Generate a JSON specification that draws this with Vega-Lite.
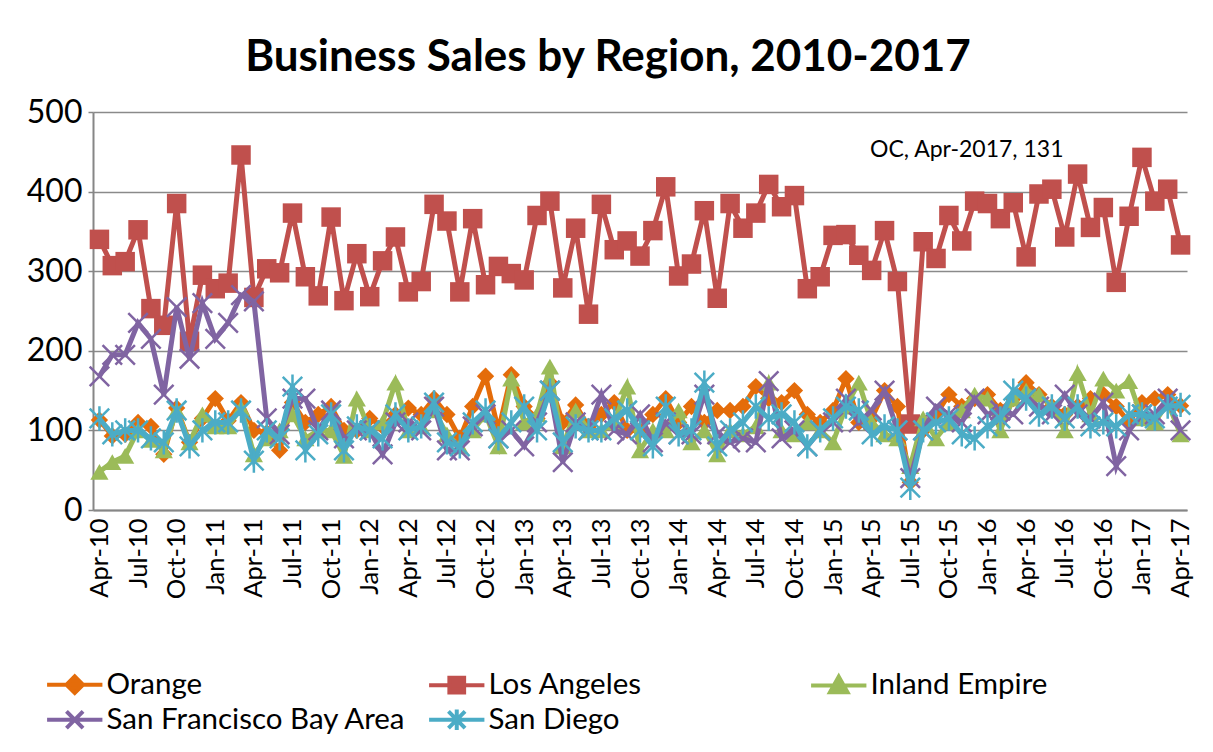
{
"$schema":"https://vega.github.io/schema/vega-lite/v6.json",
"width":1094,"height":398,
"autosize":{"type":"none"},
"padding":{"left":93,"top":112,"right":26,"bottom":242},
"background":"white",
"config":{"view":{"stroke":null},"font":"Lato"},
"title":{"text":"Business Sales by Region, 2010-2017","fontSize":44,"font":"Lato","fontWeight":"bold","color":"black","anchor":"middle","dx":-32,"offset":16},
"data":{"values":[
{"m":"Apr-10","Orange":113,"Los Angeles":340,"Inland Empire":48,"San Francisco Bay Area":168,"San Diego":115},
{"m":"May-10","Orange":93,"Los Angeles":307,"Inland Empire":60,"San Francisco Bay Area":195,"San Diego":95},
{"m":"Jun-10","Orange":95,"Los Angeles":312,"Inland Empire":68,"San Francisco Bay Area":195,"San Diego":100},
{"m":"Jul-10","Orange":110,"Los Angeles":352,"Inland Empire":100,"San Francisco Bay Area":235,"San Diego":100},
{"m":"Aug-10","Orange":105,"Los Angeles":253,"Inland Empire":88,"San Francisco Bay Area":215,"San Diego":90},
{"m":"Sep-10","Orange":70,"Los Angeles":232,"Inland Empire":75,"San Francisco Bay Area":145,"San Diego":85},
{"m":"Oct-10","Orange":128,"Los Angeles":385,"Inland Empire":125,"San Francisco Bay Area":255,"San Diego":125},
{"m":"Nov-10","Orange":85,"Los Angeles":212,"Inland Empire":85,"San Francisco Bay Area":190,"San Diego":80},
{"m":"Dec-10","Orange":115,"Los Angeles":295,"Inland Empire":120,"San Francisco Bay Area":260,"San Diego":100},
{"m":"Jan-11","Orange":140,"Los Angeles":278,"Inland Empire":105,"San Francisco Bay Area":215,"San Diego":110},
{"m":"Feb-11","Orange":112,"Los Angeles":285,"Inland Empire":105,"San Francisco Bay Area":235,"San Diego":110},
{"m":"Mar-11","Orange":135,"Los Angeles":446,"Inland Empire":128,"San Francisco Bay Area":270,"San Diego":125},
{"m":"Apr-11","Orange":100,"Los Angeles":267,"Inland Empire":70,"San Francisco Bay Area":262,"San Diego":62},
{"m":"May-11","Orange":97,"Los Angeles":303,"Inland Empire":90,"San Francisco Bay Area":115,"San Diego":100},
{"m":"Jun-11","Orange":75,"Los Angeles":298,"Inland Empire":100,"San Francisco Bay Area":95,"San Diego":90},
{"m":"Jul-11","Orange":135,"Los Angeles":373,"Inland Empire":120,"San Francisco Bay Area":140,"San Diego":155},
{"m":"Aug-11","Orange":110,"Los Angeles":293,"Inland Empire":90,"San Francisco Bay Area":140,"San Diego":75},
{"m":"Sep-11","Orange":120,"Los Angeles":269,"Inland Empire":100,"San Francisco Bay Area":100,"San Diego":95},
{"m":"Oct-11","Orange":130,"Los Angeles":368,"Inland Empire":100,"San Francisco Bay Area":125,"San Diego":120},
{"m":"Nov-11","Orange":100,"Los Angeles":263,"Inland Empire":68,"San Francisco Bay Area":90,"San Diego":75},
{"m":"Dec-11","Orange":100,"Los Angeles":322,"Inland Empire":140,"San Francisco Bay Area":100,"San Diego":105},
{"m":"Jan-12","Orange":115,"Los Angeles":268,"Inland Empire":100,"San Francisco Bay Area":100,"San Diego":100},
{"m":"Feb-12","Orange":105,"Los Angeles":313,"Inland Empire":110,"San Francisco Bay Area":70,"San Diego":90},
{"m":"Mar-12","Orange":120,"Los Angeles":343,"Inland Empire":160,"San Francisco Bay Area":110,"San Diego":120},
{"m":"Apr-12","Orange":128,"Los Angeles":274,"Inland Empire":100,"San Francisco Bay Area":110,"San Diego":100},
{"m":"May-12","Orange":120,"Los Angeles":287,"Inland Empire":105,"San Francisco Bay Area":100,"San Diego":105},
{"m":"Jun-12","Orange":140,"Los Angeles":384,"Inland Empire":125,"San Francisco Bay Area":130,"San Diego":135},
{"m":"Jul-12","Orange":120,"Los Angeles":363,"Inland Empire":95,"San Francisco Bay Area":75,"San Diego":85},
{"m":"Aug-12","Orange":90,"Los Angeles":274,"Inland Empire":80,"San Francisco Bay Area":75,"San Diego":80},
{"m":"Sep-12","Orange":130,"Los Angeles":366,"Inland Empire":100,"San Francisco Bay Area":105,"San Diego":110},
{"m":"Oct-12","Orange":168,"Los Angeles":283,"Inland Empire":120,"San Francisco Bay Area":120,"San Diego":125},
{"m":"Nov-12","Orange":100,"Los Angeles":306,"Inland Empire":80,"San Francisco Bay Area":90,"San Diego":90},
{"m":"Dec-12","Orange":170,"Los Angeles":297,"Inland Empire":165,"San Francisco Bay Area":100,"San Diego":110},
{"m":"Jan-13","Orange":130,"Los Angeles":289,"Inland Empire":110,"San Francisco Bay Area":80,"San Diego":130},
{"m":"Feb-13","Orange":115,"Los Angeles":370,"Inland Empire":120,"San Francisco Bay Area":110,"San Diego":100},
{"m":"Mar-13","Orange":160,"Los Angeles":388,"Inland Empire":180,"San Francisco Bay Area":150,"San Diego":150},
{"m":"Apr-13","Orange":110,"Los Angeles":279,"Inland Empire":80,"San Francisco Bay Area":60,"San Diego":85},
{"m":"May-13","Orange":132,"Los Angeles":354,"Inland Empire":125,"San Francisco Bay Area":110,"San Diego":105},
{"m":"Jun-13","Orange":105,"Los Angeles":246,"Inland Empire":100,"San Francisco Bay Area":100,"San Diego":100},
{"m":"Jul-13","Orange":120,"Los Angeles":384,"Inland Empire":100,"San Francisco Bay Area":145,"San Diego":100},
{"m":"Aug-13","Orange":135,"Los Angeles":327,"Inland Empire":110,"San Francisco Bay Area":100,"San Diego":115},
{"m":"Sep-13","Orange":100,"Los Angeles":338,"Inland Empire":155,"San Francisco Bay Area":95,"San Diego":125},
{"m":"Oct-13","Orange":100,"Los Angeles":319,"Inland Empire":75,"San Francisco Bay Area":120,"San Diego":100},
{"m":"Nov-13","Orange":120,"Los Angeles":351,"Inland Empire":100,"San Francisco Bay Area":85,"San Diego":80},
{"m":"Dec-13","Orange":140,"Los Angeles":406,"Inland Empire":100,"San Francisco Bay Area":110,"San Diego":130},
{"m":"Jan-14","Orange":110,"Los Angeles":294,"Inland Empire":125,"San Francisco Bay Area":95,"San Diego":95},
{"m":"Feb-14","Orange":130,"Los Angeles":309,"Inland Empire":85,"San Francisco Bay Area":95,"San Diego":100},
{"m":"Mar-14","Orange":110,"Los Angeles":376,"Inland Empire":100,"San Francisco Bay Area":145,"San Diego":160},
{"m":"Apr-14","Orange":125,"Los Angeles":266,"Inland Empire":70,"San Francisco Bay Area":95,"San Diego":80},
{"m":"May-14","Orange":125,"Los Angeles":385,"Inland Empire":100,"San Francisco Bay Area":85,"San Diego":100},
{"m":"Jun-14","Orange":130,"Los Angeles":354,"Inland Empire":95,"San Francisco Bay Area":90,"San Diego":110},
{"m":"Jul-14","Orange":155,"Los Angeles":373,"Inland Empire":105,"San Francisco Bay Area":85,"San Diego":130},
{"m":"Aug-14","Orange":140,"Los Angeles":409,"Inland Empire":160,"San Francisco Bay Area":162,"San Diego":115},
{"m":"Sep-14","Orange":135,"Los Angeles":381,"Inland Empire":100,"San Francisco Bay Area":90,"San Diego":120},
{"m":"Oct-14","Orange":150,"Los Angeles":395,"Inland Empire":95,"San Francisco Bay Area":100,"San Diego":110},
{"m":"Nov-14","Orange":120,"Los Angeles":278,"Inland Empire":110,"San Francisco Bay Area":80,"San Diego":80},
{"m":"Dec-14","Orange":110,"Los Angeles":293,"Inland Empire":100,"San Francisco Bay Area":100,"San Diego":100},
{"m":"Jan-15","Orange":125,"Los Angeles":345,"Inland Empire":85,"San Francisco Bay Area":110,"San Diego":115},
{"m":"Feb-15","Orange":165,"Los Angeles":346,"Inland Empire":130,"San Francisco Bay Area":140,"San Diego":130},
{"m":"Mar-15","Orange":110,"Los Angeles":320,"Inland Empire":160,"San Francisco Bay Area":110,"San Diego":125},
{"m":"Apr-15","Orange":115,"Los Angeles":301,"Inland Empire":110,"San Francisco Bay Area":125,"San Diego":95},
{"m":"May-15","Orange":150,"Los Angeles":351,"Inland Empire":95,"San Francisco Bay Area":150,"San Diego":105},
{"m":"Jun-15","Orange":130,"Los Angeles":287,"Inland Empire":90,"San Francisco Bay Area":100,"San Diego":100},
{"m":"Jul-15","Orange":35,"Los Angeles":108,"Inland Empire":55,"San Francisco Bay Area":40,"San Diego":28},
{"m":"Aug-15","Orange":100,"Los Angeles":337,"Inland Empire":115,"San Francisco Bay Area":100,"San Diego":100},
{"m":"Sep-15","Orange":120,"Los Angeles":316,"Inland Empire":90,"San Francisco Bay Area":130,"San Diego":110},
{"m":"Oct-15","Orange":145,"Los Angeles":370,"Inland Empire":110,"San Francisco Bay Area":120,"San Diego":115},
{"m":"Nov-15","Orange":130,"Los Angeles":338,"Inland Empire":125,"San Francisco Bay Area":110,"San Diego":95},
{"m":"Dec-15","Orange":140,"Los Angeles":388,"Inland Empire":145,"San Francisco Bay Area":140,"San Diego":90},
{"m":"Jan-16","Orange":145,"Los Angeles":385,"Inland Empire":140,"San Francisco Bay Area":120,"San Diego":105},
{"m":"Feb-16","Orange":125,"Los Angeles":366,"Inland Empire":100,"San Francisco Bay Area":125,"San Diego":115},
{"m":"Mar-16","Orange":140,"Los Angeles":386,"Inland Empire":140,"San Francisco Bay Area":120,"San Diego":150},
{"m":"Apr-16","Orange":160,"Los Angeles":318,"Inland Empire":150,"San Francisco Bay Area":140,"San Diego":140},
{"m":"May-16","Orange":145,"Los Angeles":397,"Inland Empire":145,"San Francisco Bay Area":130,"San Diego":120},
{"m":"Jun-16","Orange":130,"Los Angeles":403,"Inland Empire":130,"San Francisco Bay Area":120,"San Diego":130},
{"m":"Jul-16","Orange":120,"Los Angeles":343,"Inland Empire":100,"San Francisco Bay Area":145,"San Diego":115},
{"m":"Aug-16","Orange":130,"Los Angeles":422,"Inland Empire":172,"San Francisco Bay Area":120,"San Diego":130},
{"m":"Sep-16","Orange":140,"Los Angeles":355,"Inland Empire":120,"San Francisco Bay Area":115,"San Diego":105},
{"m":"Oct-16","Orange":145,"Los Angeles":380,"Inland Empire":165,"San Francisco Bay Area":135,"San Diego":110},
{"m":"Nov-16","Orange":130,"Los Angeles":286,"Inland Empire":150,"San Francisco Bay Area":55,"San Diego":105},
{"m":"Dec-16","Orange":110,"Los Angeles":369,"Inland Empire":162,"San Francisco Bay Area":100,"San Diego":120},
{"m":"Jan-17","Orange":135,"Los Angeles":443,"Inland Empire":115,"San Francisco Bay Area":120,"San Diego":120},
{"m":"Feb-17","Orange":140,"Los Angeles":388,"Inland Empire":110,"San Francisco Bay Area":120,"San Diego":115},
{"m":"Mar-17","Orange":145,"Los Angeles":403,"Inland Empire":135,"San Francisco Bay Area":140,"San Diego":130},
{"m":"Apr-17","Orange":131,"Los Angeles":333,"Inland Empire":95,"San Francisco Bay Area":100,"San Diego":132}
]},
"transform":[{"fold":["Orange","Los Angeles","Inland Empire","San Francisco Bay Area","San Diego"],"as":["region","sales"]}],
"encoding":{
 "x":{"field":"m","type":"ordinal","sort":null,"axis":{"title":null,"values":["Apr-10","Jul-10","Oct-10","Jan-11","Apr-11","Jul-11","Oct-11","Jan-12","Apr-12","Jul-12","Oct-12","Jan-13","Apr-13","Jul-13","Oct-13","Jan-14","Apr-14","Jul-14","Oct-14","Jan-15","Apr-15","Jul-15","Oct-15","Jan-16","Apr-16","Jul-16","Oct-16","Jan-17","Apr-17"],"labelAngle":-90,"labelFontSize":25.5,"labelFont":"Lato","labelColor":"black","ticks":false,"domainColor":"#868686","domainWidth":2,"grid":false,"labelPadding":8}},
 "y":{"field":"sales","type":"quantitative","scale":{"domain":[0,500]},"axis":{"title":null,"values":[0,100,200,300,400,500],"labelFontSize":32,"labelFont":"Lato","labelColor":"black","grid":true,"gridColor":"#8a8a8a","gridWidth":1.5,"domainColor":"#868686","domainWidth":2,"tickColor":"#868686","tickSize":5,"tickWidth":1.5,"labelPadding":6}},
 "color":{"field":"region","type":"nominal","scale":{"domain":["Orange","Los Angeles","Inland Empire","San Francisco Bay Area","San Diego"],"range":["#E46C0A","#C0504D","#9BBB59","#8064A2","#4BACC6"]},
  "legend":{"orient":"none","legendX":-33,"legendY":557,"direction":"horizontal","columns":3,"gridAlign":"all","title":null,"padding":0,"labelFontSize":29.5,"labelFont":"Lato","labelColor":"black","labelLimit":600,"symbolSize":340,"symbolStrokeWidth":4,"labelOffset":17,"columnPadding":14,"rowPadding":-1,
   "encode":{"symbols":{"update":{"shape":{"signal":"datum.value === 'Orange' ? 'M-3,0L3,0M0,-0.9L0.9,0L0,0.9L-0.9,0Z' : datum.value === 'Los Angeles' ? 'M-3,0L3,0M-0.8,-0.8L0.8,-0.8L0.8,0.8L-0.8,0.8Z' : datum.value === 'Inland Empire' ? 'M-3,0L3,0M0,-0.95L0.95,0.75L-0.95,0.75Z' : datum.value === 'San Francisco Bay Area' ? 'M-3,0L3,0M-0.9,-0.9L0.9,0.9M-0.9,0.9L0.9,-0.9' : 'M-3,0L3,0M-0.9,-0.9L0.9,0.9M-0.9,0.9L0.9,-0.9M0,-1.1L0,1.1'"},"fill":{"scale":"color","field":"value"},"stroke":{"scale":"color","field":"value"},"strokeWidth":{"value":4},"opacity":{"value":1}}}}}}
},
"layer":[
 {"transform":[{"filter":"datum.region === 'Orange'"}],"layer":[
   {"mark":{"type":"line","strokeWidth":5}},
   {"mark":{"type":"point","shape":"diamond","filled":true,"size":300,"opacity":1}}
 ]},
 {"transform":[{"filter":"datum.region === 'Los Angeles'"}],"layer":[
   {"mark":{"type":"line","strokeWidth":5}},
   {"mark":{"type":"point","shape":"square","filled":true,"size":380,"opacity":1}}
 ]},
 {"transform":[{"filter":"datum.region === 'Inland Empire'"}],"layer":[
   {"mark":{"type":"line","strokeWidth":5}},
   {"mark":{"type":"point","shape":"triangle-up","filled":true,"size":330,"opacity":1}}
 ]},
 {"transform":[{"filter":"datum.region === 'San Francisco Bay Area'"}],"layer":[
   {"mark":{"type":"line","strokeWidth":5}},
   {"mark":{"type":"point","shape":"M-1,-1L1,1M-1,1L1,-1","filled":false,"size":380,"strokeWidth":2.5,"opacity":1}}
 ]},
 {"transform":[{"filter":"datum.region === 'San Diego'"}],"layer":[
   {"mark":{"type":"line","strokeWidth":5}},
   {"mark":{"type":"point","shape":"M-1,-1L1,1M-1,1L1,-1M0,-1.25L0,1.25","filled":false,"size":380,"strokeWidth":2.5,"opacity":1}}
 ]},
 {"transform":[{"filter":"datum.region === 'Orange' && datum.m === 'Apr-17'"}],"mark":{"type":"text","fontSize":23,"font":"Lato","fontWeight":"normal","align":"center","baseline":"middle","dx":5},"encoding":{"x":{"datum":"Nov-15","type":"ordinal"},"y":{"datum":452,"type":"quantitative"},"text":{"value":"OC, Apr-2017, 131"},"color":{"value":"black"}}}
]
}
